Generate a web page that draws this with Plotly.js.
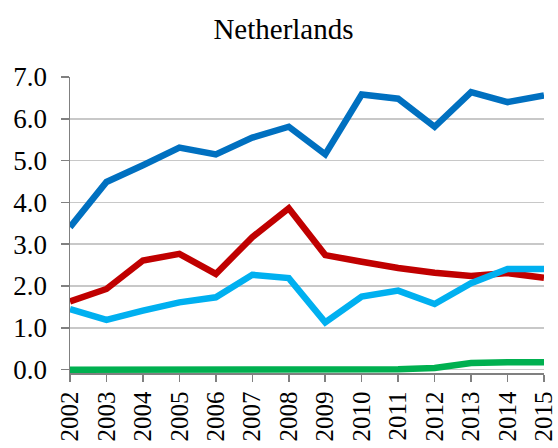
<!DOCTYPE html>
<html>
<head>
<meta charset="utf-8">
<script src="https://cdn.plot.ly/plotly-3.0.1.min.js"></script>
<style>html,body{margin:0;padding:0;background:#fff}#chart{width:558px;height:448px}</style>
</head>
<body>
<div id="chart"></div>
<script>
var years = ["2002","2003","2004","2005","2006","2007","2008","2009","2010","2011","2012","2013","2014","2015"];
var seriesDarkBlue = [3.41,4.49,4.89,5.31,5.15,5.55,5.81,5.15,6.58,6.48,5.81,6.64,6.40,6.56];
var seriesRed = [1.63,1.93,2.61,2.77,2.29,3.17,3.86,2.74,2.58,2.43,2.32,2.24,2.31,2.20];
var seriesLightBlue = [1.45,1.19,1.41,1.61,1.73,2.27,2.19,1.13,1.75,1.89,1.57,2.07,2.41,2.41];
var seriesGreen = [0.0,0.0,0.0,0.0,0.0,0.0,0.0,0.0,0.0,0.01,0.04,0.16,0.18,0.18];
var yTickVals = [0,1,2,3,4,5,6,7];
var yTickText = ["0.0","1.0","2.0","3.0","4.0","5.0","6.0","7.0"];

function mk(y, color) {
  return {x: years, y: y, type: 'scatter', mode: 'lines',
          line: {color: color, width: 6.5, shape: 'linear'}, hoverinfo: 'skip', showlegend: false};
}
var data = [
  mk(seriesRed, '#C00000'),
  mk(seriesLightBlue, '#00B0F0'),
  mk(seriesDarkBlue, '#0070C0'),
  mk(seriesGreen, '#00B050')
];
var font = {family: '"Liberation Serif", "Times New Roman", serif', color: '#000'};
var layout = {
  width: 558, height: 448,
  margin: {l: 70, r: 14, t: 77, b: 75, pad: 0},
  paper_bgcolor: '#fff', plot_bgcolor: '#fff',
  showlegend: false,
  title: {text: 'Netherlands', font: Object.assign({size: 29}, font),
          xref: 'container', x: 0.508, xanchor: 'center',
          yref: 'container', y: 0.935, yanchor: 'middle'},
  xaxis: {type: 'category', range: [0, 13], tickangle: -90,
          showgrid: false, showline: true, linecolor: '#808080', linewidth: 1.5,
          ticks: 'outside', ticklen: 7, tickcolor: '#808080', tickwidth: 1.5,
          tickfont: Object.assign({size: 25}, font), zeroline: false, fixedrange: true},
  yaxis: {range: [-0.08, 7], tickvals: yTickVals, ticktext: yTickText,
          showgrid: true, gridcolor: '#C8C8C8', gridwidth: 1.5,
          showline: true, linecolor: '#808080', linewidth: 1.5,
          ticks: 'outside', ticklen: 8, tickcolor: '#808080', tickwidth: 1.5,
          ticklabelstandoff: 8,
          tickfont: Object.assign({size: 27}, font), zeroline: false, fixedrange: true}
};
Plotly.newPlot('chart', data, layout, {displayModeBar: false, staticPlot: true});
</script>
</body>
</html>
